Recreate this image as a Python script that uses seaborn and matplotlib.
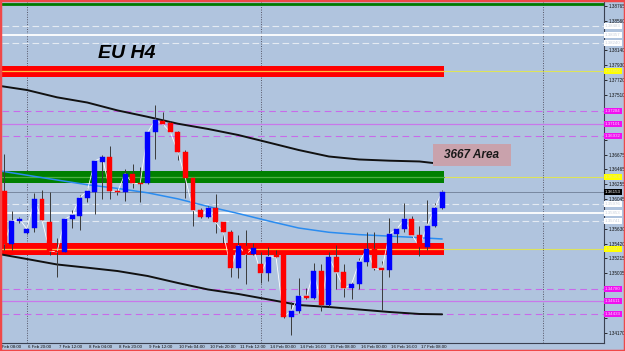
import matplotlib
matplotlib.use("Agg")
import matplotlib.pyplot as plt
import matplotlib.transforms as mtransforms
from matplotlib.patches import Rectangle
import seaborn as sns

# ---------------- data ----------------
opens = [1.36167, 1.35417, 1.35741, 1.35576, 1.35638, 1.36046, 1.35731, 1.35319, 1.35309, 1.35769,
         1.35815, 1.36060, 1.36153, 1.36575, 1.36637, 1.36167, 1.36153, 1.36406, 1.36271, 1.36271,
         1.36988, 1.37151, 1.37115, 1.36997, 1.36715, 1.36341, 1.35895, 1.35801, 1.35928, 1.35722,
         1.35582, 1.35075, 1.35393, 1.35272, 1.35132, 1.35005, 1.35262, 1.35272, 1.34395, 1.34475,
         1.34690, 1.34662, 1.35037, 1.34559, 1.35230, 1.35019, 1.34794, 1.34850, 1.35160, 1.35347,
         1.35075, 1.35047, 1.35554, 1.35628, 1.35769, 1.35544, 1.35379, 1.35670, 1.35919]
highs = [1.36679, 1.35881, 1.35801, 1.35656, 1.36139, 1.36177, 1.36153, 1.35502, 1.35769, 1.35895,
         1.36106, 1.36209, 1.36599, 1.36669, 1.36800, 1.36187, 1.36472, 1.36538, 1.36504, 1.36997,
         1.37372, 1.37278, 1.37147, 1.37006, 1.36739, 1.36345, 1.35919, 1.35952, 1.36116, 1.35727,
         1.35614, 1.35544, 1.35614, 1.35427, 1.35309, 1.35379, 1.35333, 1.35276, 1.34606, 1.34943,
         1.34802, 1.35146, 1.35132, 1.35309, 1.35403, 1.35132, 1.34887, 1.35216, 1.35590, 1.35582,
         1.35182, 1.35779, 1.35660, 1.35990, 1.35815, 1.35675, 1.36036, 1.35990, 1.36177]
lows = [1.35333, 1.35333, 1.35708, 1.35558, 1.35590, 1.35741, 1.35262, 1.34953, 1.35305, 1.35638,
        1.35614, 1.36012, 1.35835, 1.36050, 1.36046, 1.36106, 1.36022, 1.36201, 1.36012, 1.36261,
        1.36613, 1.37091, 1.36974, 1.36599, 1.36060, 1.35670, 1.35787, 1.35783, 1.35568, 1.35427,
        1.34957, 1.34935, 1.34850, 1.35262, 1.34864, 1.34897, 1.35216, 1.34372, 1.34137, 1.34442,
        1.34644, 1.34644, 1.34475, 1.34535, 1.34784, 1.34676, 1.34644, 1.34784, 1.35112, 1.35051,
        1.34489, 1.34957, 1.35427, 1.35590, 1.35520, 1.35253, 1.35333, 1.35660, 1.35909]
closes = [1.35417, 1.35741, 1.35769, 1.35628, 1.36046, 1.35755, 1.35319, 1.35305, 1.35765, 1.35825,
          1.36068, 1.36163, 1.36585, 1.36637, 1.36167, 1.36149, 1.36406, 1.36271, 1.36267, 1.36988,
          1.37161, 1.37105, 1.36988, 1.36715, 1.36341, 1.35895, 1.35801, 1.35928, 1.35722, 1.35582,
          1.35075, 1.35393, 1.35272, 1.35357, 1.35005, 1.35239, 1.35230, 1.34395, 1.34475, 1.34686,
          1.34662, 1.35037, 1.34559, 1.35230, 1.35019, 1.34794, 1.34850, 1.35160, 1.35347, 1.35075,
          1.35047, 1.35554, 1.35628, 1.35769, 1.35544, 1.35379, 1.35670, 1.35919, 1.36153]
candle_idx = list(range(1, len(closes) + 1))

# envelope / moving average samples (candle index -> price)
ma_idx = [0.5, 4, 8, 12, 16, 20, 24, 28, 32, 36, 40, 44, 48, 52, 56, 59]
upper_band = [1.37639, 1.37583, 1.37480, 1.37407, 1.37296, 1.37206, 1.37109, 1.37035,
              1.36950, 1.36845, 1.36739, 1.36648, 1.36606, 1.36589, 1.36578, 1.36542]
lower_band = [1.35272, 1.35206, 1.35129, 1.35084, 1.35037, 1.34967, 1.34869, 1.34777,
              1.34714, 1.34637, 1.34559, 1.34531, 1.34496, 1.34461, 1.34433, 1.34428]
blue_ma = [1.36444, 1.36385, 1.36317, 1.36251, 1.36199, 1.36137, 1.36052, 1.35945,
           1.35846, 1.35741, 1.35642, 1.35582, 1.35549, 1.35528, 1.35506, 1.35488]

# x-axis labels (every 4 candles)
time_pos = [0, 4, 8, 12, 16, 20, 24, 28, 32, 36, 40, 44, 48, 52, 56]
time_labels = ["4 Feb 08:00", "6 Feb 20:00", "7 Feb 12:00", "8 Feb 04:00", "8 Feb 20:00",
               "9 Feb 12:00", "10 Feb 04:00", "10 Feb 20:00", "11 Feb 12:00", "14 Feb 00:00",
               "14 Feb 16:00", "15 Feb 08:00", "16 Feb 00:00", "16 Feb 16:00", "17 Feb 08:00"]
separators = [4, 35, 72.4]

# price axis ticks
price_ticks = [1.38765, 1.38560, 1.38350, 1.38140, 1.37930, 1.37720, 1.37510, 1.37300,
               1.37095, 1.36885, 1.36675, 1.36465, 1.36255, 1.36045, 1.35840, 1.35630,
               1.35420, 1.35215, 1.35005, 1.34795, 1.34590, 1.34380, 1.34170]

# horizontal levels
top_green_level = 1.38793
white_dashed = [1.38483, 1.38240, 1.35976, 1.35741]
white_solid = [1.38357, 1.35853]
pink_dashed = [1.37284, 1.36932, 1.34780, 1.34433]
pink_solid = [1.37101, 1.34611]
red_zones = [(1.37770, 1.37925), (1.35262, 1.35431)]
green_zones = [(1.36279, 1.36448)]
yellow_levels = [1.37850, 1.36364, 1.35347]

area_label = "3667 Area"
area_box = (57.75, 68.1, 1.36518, 1.36824)   # x0, x1 (candle idx), y0, y1 (price)
title = "EU H4"
title_pos = (17.26, 1.38093)

# ---------------- style ----------------
sns.set_style("white")
plt.rcParams['font.family'] = ['Liberation Sans', 'DejaVu Sans']
BG = '#B0C4DE'

fig = plt.figure(figsize=(6.25, 3.51), dpi=100, facecolor=BG)
ax = fig.add_axes([2 / 625, 8 / 351, 602 / 625, 341 / 351])
ax.set_facecolor(BG)
ax.set_xlim(0.702, 80.44)
ax.set_ylim(1.340247, 1.388209)

band_end = candle_idx[-1] + 0.3
x0 = ax.get_xlim()[0]

# yellow lines across the whole width
for lv in yellow_levels:
    ax.axhline(lv, color='#DDE35A', lw=0.8, zorder=1)

# zones
for lo, hi in red_zones:
    ax.fill_between([x0, band_end], lo, hi, color='#FF0000', lw=0, zorder=2)
for lo, hi in green_zones:
    ax.fill_between([x0, band_end], lo, hi, color='#008000', lw=0, zorder=2)
for lv in yellow_levels:
    inz_red = any(lo <= lv <= hi for lo, hi in red_zones)
    ax.plot([x0, band_end], [lv, lv], color='#FFC040' if inz_red else '#4CB040',
            lw=0.9, zorder=2.1)

ax.axhline(top_green_level, color='#007A00', lw=2.0, zorder=2)

for lv in white_dashed:
    ax.axhline(lv, color='#E4EAF2', lw=0.8, ls=(0, (6, 3)), zorder=1.5)
for lv in white_solid:
    ax.axhline(lv, color='#FFFFFF', lw=1.3, zorder=1.5)
for lv in pink_dashed:
    ax.axhline(lv, color='#C86AEA', lw=0.8, ls=(0, (6, 4)), zorder=1.5)
for lv in pink_solid:
    ax.axhline(lv, color='#C878EA', lw=0.9, zorder=1.5)

# current price line
ax.axhline(closes[-1], color='#7888A0', lw=0.7, zorder=1.5)

# separators
for s in separators:
    ax.axvline(s, color='#555566', lw=0.7, ls=(0, (1, 1.5)), zorder=1.4)

# envelope and MA lines
sns.lineplot(x=ma_idx, y=upper_band, ax=ax, color='#111111', lw=1.4, zorder=3)
sns.lineplot(x=ma_idx, y=lower_band, ax=ax, color='#111111', lw=1.4, zorder=3)
sns.lineplot(x=ma_idx, y=blue_ma, ax=ax, color='#2A8CF0', lw=1.1, zorder=3)

# candles
colors = ['#0000FF' if c > o else '#FF0000' for o, c in zip(opens, closes)]
ax.vlines(candle_idx, lows, highs, color='#3A3A3A', lw=0.7, zorder=4)
heights = [max(abs(c - o), 0.00003) for o, c in zip(opens, closes)]
bottoms = [min(o, c) for o, c in zip(opens, closes)]
ax.bar(candle_idx, heights, bottom=bottoms, width=0.66, color=colors,
       edgecolor=colors, lw=0.3, zorder=5)

# close line
sns.lineplot(x=candle_idx, y=closes, ax=ax, color='#FFFFFF', lw=0.6, zorder=4.5)

# annotation box
ax.add_patch(Rectangle((area_box[0], area_box[2]), area_box[1] - area_box[0],
                       area_box[3] - area_box[2], facecolor='#C9A2AC', edgecolor='none', zorder=6))
ax.text((area_box[0] + area_box[1]) / 2, (area_box[2] + area_box[3]) / 2, area_label,
        ha='center', va='center', fontsize=8.5, fontweight='bold', fontstyle='italic',
        color='#1A1A1A', zorder=7)

ax.text(title_pos[0], title_pos[1], title, ha='center', va='center', fontsize=14,
        fontweight='bold', fontstyle='italic', color='#000000', zorder=7)

# axes
for side in ['left', 'top']:
    ax.spines[side].set_visible(False)
for side in ['right', 'bottom']:
    ax.spines[side].set_color('#3A4050')
    ax.spines[side].set_linewidth(0.8)

box_levels = white_dashed + white_solid + pink_dashed + pink_solid + yellow_levels + [closes[-1]]
yspan = ax.get_ylim()[1] - ax.get_ylim()[0]
px = yspan / 341.0
tick_text = []
for p in price_ticks:
    covered = any(abs(p - b) < 4.6 * px for b in box_levels)
    tick_text.append('' if covered else f"{p:.5f}")

ax.yaxis.tick_right()
ax.set_yticks(price_ticks)
ax.set_yticklabels(tick_text)
ax.tick_params(axis='y', direction='out', length=2, width=0.6, pad=1.2,
               labelsize=3.3, colors='#111111')
ax.set_xticks([p for p in time_pos if p >= x0])
ax.set_xticklabels([])
ax.tick_params(axis='x', direction='out', length=3, width=0.6, colors='#111111')
ax.set_xlabel('')
ax.set_ylabel('')

offset = mtransforms.ScaledTranslation(1.6 / 100, -1.5 / 100, fig.dpi_scale_trans)
tr = ax.get_xaxis_transform() + offset
for p, lab in zip(time_pos, time_labels):
    ax.text(p, 0, lab, transform=tr, ha='left', va='top', fontsize=3.2,
            color='#111111', clip_on=False)

# price boxes on the right axis
def price_box(price, fc, tc):
    ax.text(1.0015, price, f"{price:.5f}", transform=ax.get_yaxis_transform(),
            ha='left', va='center', fontsize=3.2, color=tc,
            bbox=dict(boxstyle='square,pad=0.25', fc=fc, ec='none'),
            clip_on=False, zorder=8)

for lv in white_dashed + white_solid:
    price_box(lv, '#FFFFFF', '#C8D0DC')
for lv in pink_dashed + pink_solid:
    price_box(lv, '#F010F0', '#FFD0FF')
for lv in yellow_levels:
    price_box(lv, '#FFFF00', '#E8E890')
price_box(closes[-1], '#000000', '#FFFFFF')

# outer red frame
fig.add_artist(Rectangle((0, 0), 1, 1, transform=fig.transFigure, fill=False,
                         edgecolor='#F04848', lw=2.5))

fig.savefig('out.png', dpi=100, facecolor=BG)
